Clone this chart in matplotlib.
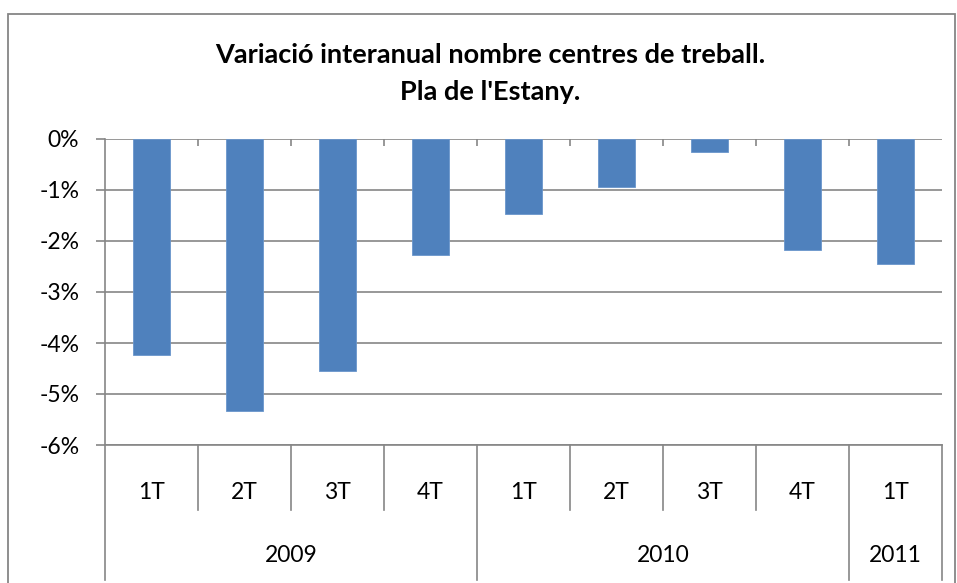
import numpy as np
import matplotlib.pyplot as plt
from matplotlib.patches import Rectangle
from matplotlib.ticker import FuncFormatter

# dades
trimestres = ['1T', '2T', '3T', '4T', '1T', '2T', '3T', '4T', '1T']
anys = ['2009', '2010', '2011']
n_per_any = [4, 4, 1]
variacio = [-4.23, -5.33, -4.55, -2.27, -1.47, -0.94, -0.25, -2.18, -2.45]

gris = '#868686'
blau = '#4F81BD'
plt.rcParams['font.family'] = ['Lato', 'DejaVu Sans']

fig = plt.figure(figsize=(9.57, 5.83), dpi=100)
ax = fig.add_axes([105 / 957, 1 - 445 / 583, 837 / 957, 306 / 583])

x = np.arange(len(variacio))
ax.bar(x, variacio, width=0.4, color=blau, edgecolor='#6A96CC', linewidth=0.6, zorder=3)
ax.set_xlim(-0.5, len(variacio) - 0.5)
ax.set_ylim(-6, 0)
ax.set_yticks(np.arange(-6, 1, 1))
ax.yaxis.set_major_formatter(FuncFormatter(lambda v, p: '%d%%' % v))
ax.grid(axis='y', color=gris, linewidth=1.2, zorder=1)
for s in ['top', 'right']:
    ax.spines[s].set_visible(False)
ax.spines['bottom'].set_color(gris)
ax.spines['bottom'].set_linewidth(1.2)
ax.spines['left'].set_visible(False)
ax.tick_params(axis='y', length=6.5, width=1.2, color=gris, pad=12, labelsize=16.5)

# marques de categoria sobre la línia del 0
ax.xaxis.set_ticks_position('top')
ax.set_xticks(np.arange(0.5, len(variacio) - 0.5, 1))
ax.tick_params(axis='x', direction='in', length=5, width=1.2, color=gris, labeltop=False)

tr = ax.get_xaxis_transform()
# eix esquerre allargat
ax.plot([-0.5, -0.5], [1, -0.44], transform=tr, color=gris, lw=1.2, clip_on=False, zorder=4)

# etiquetes de trimestre
for i, t in enumerate(trimestres):
    ax.text(i, -0.155, t, transform=tr, ha='center', va='center', fontsize=16.5)

# separadors i anys
fronteres = np.cumsum([0] + n_per_any) - 0.5
for b in np.arange(0.5, len(variacio) - 0.5, 1):
    if b in fronteres:
        continue
    ax.plot([b, b], [0, -0.212], transform=tr, color=gris, lw=1.2, clip_on=False)
for b in fronteres[1:]:
    ax.plot([b, b], [0, -0.44], transform=tr, color=gris, lw=1.2, clip_on=False)
for k, a in enumerate(anys):
    centre = (fronteres[k] + fronteres[k + 1]) / 2
    ax.text(centre, -0.36, a, transform=tr, ha='center', va='center', fontsize=16.5)

# títol
fig.text(490 / 957, 1 - 55 / 583, 'Variació interanual nombre centres de treball.',
         ha='center', va='center', fontsize=19.5, fontweight='bold')
fig.text(490 / 957, 1 - 92 / 583, "Pla de l'Estany.",
         ha='center', va='center', fontsize=19.5, fontweight='bold')

# marc del gràfic
fig.patches.append(Rectangle((8 / 957, -0.1), 947 / 957, 1.1 - 14 / 583,
                             transform=fig.transFigure, fill=False,
                             edgecolor=gris, linewidth=1.3))

fig.savefig('out.png', dpi=100)
